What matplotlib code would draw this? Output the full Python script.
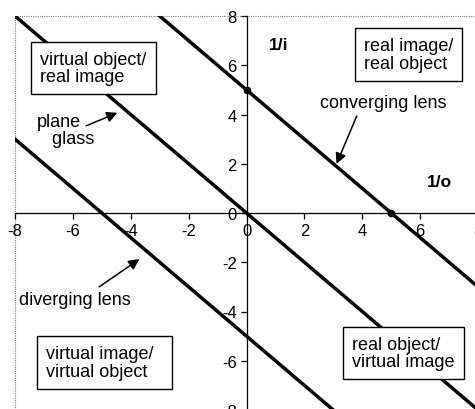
import matplotlib
matplotlib.use('Agg')
import matplotlib.pyplot as plt
from matplotlib.patches import Rectangle

plt.rcParams['font.family'] = ['Liberation Sans', 'DejaVu Sans']
plt.rcParams['axes.unicode_minus'] = False  # 刻度用普通连字符

# 透镜方程 1/i + 1/o = 1/f 的三条直线（端点读自原图）
conv_o = [-3, 0, 5, 8]
conv_i = [8, 5, 0, -3]
plane_o = [-8, 8]
plane_i = [8, -8]
div_o = [-8, 3]
div_i = [3, -8]

# 会聚透镜上的两个截距点
pts_o = [0, 5]
pts_i = [5, 0]

ticks = [-8, -6, -4, -2, 0, 2, 4, 6, 8]

fig = plt.figure(figsize=(4.75, 4.10), dpi=100)
ax = fig.add_axes([15 / 475, 1 - 411 / 410, 463 / 475, 394 / 410])

ax.plot(conv_o, conv_i, color='black', lw=2.5, zorder=3)
ax.plot(plane_o, plane_i, color='black', lw=2.5, zorder=3)
ax.plot(div_o, div_i, color='black', lw=2.5, zorder=3)
ax.plot(pts_o, pts_i, 'o', color='black', ms=4.5, zorder=4)

ax.set_xlim(-8, 8)
ax.set_ylim(-8, 8)

# 坐标轴放在原点
for s in ['right', 'top']:
    ax.spines[s].set_visible(False)
ax.spines['left'].set_position(('data', 0))
ax.spines['bottom'].set_position(('data', 0))
ax.spines['left'].set_linewidth(0.9)
ax.spines['bottom'].set_linewidth(0.9)
ax.set_xticks(ticks)
ax.set_yticks(ticks)
ax.tick_params(direction='out', length=4, width=0.9, labelsize=12, pad=3)

# 外框虚线
ax.add_patch(Rectangle((0, 0), 1, 1, transform=ax.transAxes, fill=False,
                       ls=(0, (1, 1)), lw=0.8, edgecolor='gray', clip_on=False))

# 四个象限的说明框
box = dict(boxstyle='square,pad=0.5', fc='white', ec='black', lw=1)
kw = dict(fontsize=13, ha='center', va='center', bbox=box, zorder=5,
          linespacing=1.05, multialignment='left')
ax.text(-5.29, 5.89, 'virtual object/\nreal image', **kw)
ax.text(5.59, 6.44, 'real image/\nreal object', **kw)
ax.text(-4.91, -6.08, 'virtual image/\nvirtual object   ', **kw)
ax.text(5.43, -5.69, 'real object/\nvirtual image', **kw)

ax.text(1.11, 6.83, '1/i', fontsize=12.5, fontweight='bold', ha='center', va='center')
ax.text(6.68, 1.28, '1/o', fontsize=12.5, fontweight='bold', ha='center', va='center')

# 文字和箭头分开画
ax.text(4.71, 4.5, 'converging lens', fontsize=13, ha='center', va='center')
ax.text(-7.23, 3.37, 'plane\n   glass', fontsize=13, ha='left', va='center',
        linespacing=1.0)
ax.text(-7.85, -3.5, 'diverging lens', fontsize=13, ha='left', va='center')

arrow = dict(arrowstyle='-|>', color='black', lw=1.1, mutation_scale=16,
             shrinkA=0, shrinkB=0)
ax.annotate('', xy=(3.11, 1.99), xytext=(3.81, 3.94), arrowprops=arrow)
ax.annotate('', xy=(-4.46, 4.07), xytext=(-5.54, 3.54), arrowprops=arrow)
ax.annotate('', xy=(-3.70, -1.87), xytext=(-5.09, -3.0), arrowprops=arrow)

fig.savefig('out.png', dpi=100)
